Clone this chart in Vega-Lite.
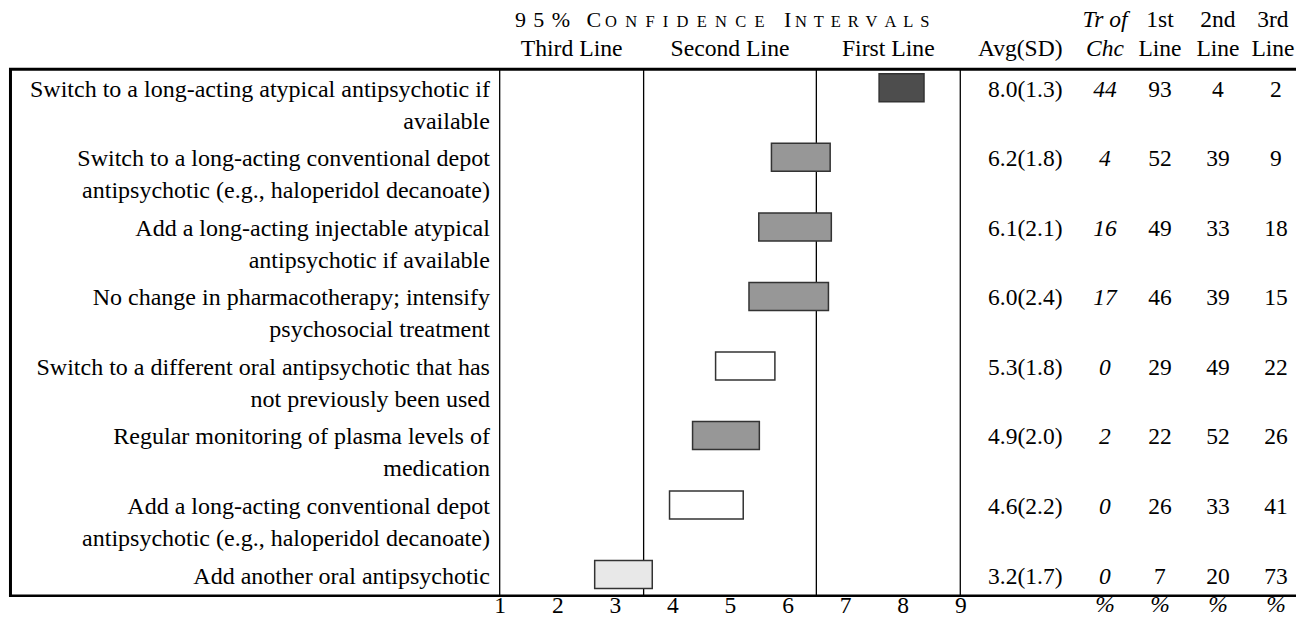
{
  "$schema": "https://vega.github.io/schema/vega-lite/v6.json",
  "width": 1296,
  "height": 596,
  "autosize": {"type": "none"},
  "padding": {"left": 0, "top": 0, "right": 0, "bottom": 22},
  "background": "white",
  "config": {
    "view": {"stroke": null},
    "text": {"font": "Liberation Serif", "color": "black"},
    "scale": {"continuousPadding": 0},
    "axis": {"grid": false, "domain": false, "ticks": false, "labelFont": "Liberation Serif", "labelFontSize": 23.5, "labelColor": "black", "labelPadding": -2.5, "labelFlush": false, "labelOverlap": false, "title": null}
  },
  "datasets": {
    "rows": [
      {"row": 1, "label": "Switch to a long-acting atypical antipsychotic if\navailable", "lo": 7.59, "hi": 8.37, "rating": "first line", "avgsd": "8.0(1.3)", "trchc": 44, "first": 93, "second": 4, "third": 2},
      {"row": 2, "label": "Switch to a long-acting conventional depot\nantipsychotic (e.g., haloperidol decanoate)", "lo": 5.72, "hi": 6.74, "rating": "high second line", "avgsd": "6.2(1.8)", "trchc": 4, "first": 52, "second": 39, "third": 9},
      {"row": 3, "label": "Add a long-acting injectable atypical\nantipsychotic if available", "lo": 5.5, "hi": 6.76, "rating": "high second line", "avgsd": "6.1(2.1)", "trchc": 16, "first": 49, "second": 33, "third": 18},
      {"row": 4, "label": "No change in pharmacotherapy; intensify\npsychosocial treatment", "lo": 5.33, "hi": 6.71, "rating": "high second line", "avgsd": "6.0(2.4)", "trchc": 17, "first": 46, "second": 39, "third": 15},
      {"row": 5, "label": "Switch to a different oral antipsychotic that has\nnot previously been used", "lo": 4.75, "hi": 5.78, "rating": "second line", "avgsd": "5.3(1.8)", "trchc": 0, "first": 29, "second": 49, "third": 22},
      {"row": 6, "label": "Regular monitoring of plasma levels of\nmedication", "lo": 4.35, "hi": 5.51, "rating": "high second line", "avgsd": "4.9(2.0)", "trchc": 2, "first": 22, "second": 52, "third": 26},
      {"row": 7, "label": "Add a long-acting conventional depot\nantipsychotic (e.g., haloperidol decanoate)", "lo": 3.95, "hi": 5.23, "rating": "second line", "avgsd": "4.6(2.2)", "trchc": 0, "first": 26, "second": 33, "third": 41},
      {"row": 8, "label": "Add another oral antipsychotic", "lo": 2.65, "hi": 3.65, "rating": "third line", "avgsd": "3.2(1.7)", "trchc": 0, "first": 7, "second": 20, "third": 73}
    ],
    "cuts": [{"v": 1}, {"v": 3.5}, {"v": 6.5}, {"v": 9}],
    "one": [{}]
  },
  "layer": [
    {
      "data": {"name": "cuts"},
      "mark": {"type": "rule", "color": "black", "strokeWidth": 1.3},
      "encoding": {
        "x": {"field": "v", "type": "quantitative",
              "scale": {"domain": [-7.679, 14.831], "nice": false, "zero": false, "padding": 0},
              "axis": {"values": [1, 2, 3, 4, 5, 6, 7, 8, 9], "format": "d", "title": null, "domain": false, "ticks": false, "grid": false,
                       "labelFont": "Liberation Serif", "labelFontSize": 23.5, "labelColor": "black", "labelPadding": -2.5,
                       "labelFlush": false, "labelOverlap": false}},
        "y": {"datum": 0.7325, "type": "quantitative",
              "scale": {"domain": [-0.2626, 8.3081], "nice": false, "zero": false, "reverse": true, "padding": 0}, "axis": null},
        "y2": {"datum": 8.3081}
      }
    },
    {
      "data": {"name": "one"},
      "mark": {"type": "rule", "color": "black", "strokeWidth": 3},
      "encoding": {
        "x": {"datum": -7.497, "type": "quantitative"},
        "y": {"datum": 0.7325, "type": "quantitative", "axis": null},
        "y2": {"datum": 8.3081}
      }
    },
    {
      "data": {"name": "one"},
      "mark": {"type": "rule", "color": "black", "strokeWidth": 3},
      "encoding": {
        "x": {"datum": -7.523, "type": "quantitative"},
        "x2": {"datum": 15},
        "y": {"datum": 0.7325, "type": "quantitative", "axis": null}
      }
    },
    {
      "data": {"name": "one"},
      "mark": {"type": "rule", "color": "black", "strokeWidth": 2.6},
      "encoding": {
        "x": {"datum": -7.523, "type": "quantitative"},
        "x2": {"datum": 15},
        "y": {"datum": 8.305, "type": "quantitative", "axis": null}
      }
    },
    {
      "data": {"name": "rows"},
      "mark": {"type": "bar", "orient": "horizontal", "size": 28, "stroke": "#333333", "strokeWidth": 1.5},
      "encoding": {
        "x": {"field": "lo", "type": "quantitative"},
        "x2": {"field": "hi"},
        "y": {"field": "row", "type": "quantitative", "axis": null},
        "fill": {"field": "rating", "type": "nominal", "legend": null,
                 "scale": {"domain": ["first line", "high second line", "second line", "third line"],
                           "range": ["#4d4d4d", "#979797", "#ffffff", "#e8e8e8"]}}
      }
    },
    {
      "data": {"name": "rows"},
      "mark": {"type": "text", "align": "right", "baseline": "alphabetic", "dy": 9, "fontSize": 24, "lineBreak": "\n", "lineHeight": 32},
      "encoding": {
        "x": {"datum": 0.83, "type": "quantitative"},
        "y": {"field": "row", "type": "quantitative", "axis": null},
        "text": {"field": "label"}
      }
    },
    {
      "data": {"name": "rows"},
      "mark": {"type": "text", "align": "right", "baseline": "alphabetic", "dy": 9, "fontSize": 23.5},
      "encoding": {
        "x": {"datum": 10.775, "type": "quantitative"},
        "y": {"field": "row", "type": "quantitative", "axis": null},
        "text": {"field": "avgsd"}
      }
    },
    {
      "data": {"name": "rows"},
      "mark": {"type": "text", "align": "center", "baseline": "alphabetic", "dy": 9, "fontSize": 23.5, "fontStyle": "italic"},
      "encoding": {
        "x": {"datum": 11.513, "type": "quantitative"},
        "y": {"field": "row", "type": "quantitative", "axis": null},
        "text": {"field": "trchc"}
      }
    },
    {
      "data": {"name": "rows"},
      "mark": {"type": "text", "align": "center", "baseline": "alphabetic", "dy": 9, "fontSize": 23.5},
      "encoding": {
        "x": {"datum": 12.468, "type": "quantitative"},
        "y": {"field": "row", "type": "quantitative", "axis": null},
        "text": {"field": "first"}
      }
    },
    {
      "data": {"name": "rows"},
      "mark": {"type": "text", "align": "center", "baseline": "alphabetic", "dy": 9, "fontSize": 23.5},
      "encoding": {
        "x": {"datum": 13.476, "type": "quantitative"},
        "y": {"field": "row", "type": "quantitative", "axis": null},
        "text": {"field": "second"}
      }
    },
    {
      "data": {"name": "rows"},
      "mark": {"type": "text", "align": "center", "baseline": "alphabetic", "dy": 9, "fontSize": 23.5},
      "encoding": {
        "x": {"datum": 14.483, "type": "quantitative"},
        "y": {"field": "row", "type": "quantitative", "axis": null},
        "text": {"field": "third"}
      }
    },
    {
      "data": {"name": "one"},
      "mark": {"type": "text", "align": "left", "baseline": "alphabetic", "fontSize": 22, "text": "9\u20045\u2004%\u2002\u2005C"},
      "encoding": {
        "x": {"datum": 1.266, "type": "quantitative"},
        "y": {"datum": 0.12, "type": "quantitative", "axis": null}
      }
    },
    {
      "data": {"name": "one"},
      "mark": {"type": "text", "align": "left", "baseline": "alphabetic", "fontSize": 16.5, "text": "O\u2002N\u2002F\u2002I\u2002D\u2002E\u2002N\u2002C\u2002E"},
      "encoding": {
        "x": {"datum": 2.83, "type": "quantitative"},
        "y": {"datum": 0.12, "type": "quantitative", "axis": null}
      }
    },
    {
      "data": {"name": "one"},
      "mark": {"type": "text", "align": "left", "baseline": "alphabetic", "fontSize": 22, "text": "I"},
      "encoding": {
        "x": {"datum": 5.939, "type": "quantitative"},
        "y": {"datum": 0.12, "type": "quantitative", "axis": null}
      }
    },
    {
      "data": {"name": "one"},
      "mark": {"type": "text", "align": "left", "baseline": "alphabetic", "fontSize": 16.5, "text": "N\u2005\u2006T\u2005\u2006E\u2005\u2006R\u2005\u2006V\u2005\u2006A\u2005\u2006L\u2005\u2006S"},
      "encoding": {
        "x": {"datum": 6.13, "type": "quantitative"},
        "y": {"datum": 0.12, "type": "quantitative", "axis": null}
      }
    },
    {
      "data": {"name": "one"},
      "mark": {"type": "text", "align": "center", "baseline": "alphabetic", "fontSize": 23.7, "text": "Third Line"},
      "encoding": {
        "x": {"datum": 2.25, "type": "quantitative"},
        "y": {"datum": 0.543, "type": "quantitative", "axis": null}
      }
    },
    {
      "data": {"name": "one"},
      "mark": {"type": "text", "align": "center", "baseline": "alphabetic", "fontSize": 23.7, "text": "Second Line"},
      "encoding": {
        "x": {"datum": 5.0, "type": "quantitative"},
        "y": {"datum": 0.543, "type": "quantitative", "axis": null}
      }
    },
    {
      "data": {"name": "one"},
      "mark": {"type": "text", "align": "center", "baseline": "alphabetic", "fontSize": 23.7, "text": "First Line"},
      "encoding": {
        "x": {"datum": 7.75, "type": "quantitative"},
        "y": {"datum": 0.543, "type": "quantitative", "axis": null}
      }
    },
    {
      "data": {"name": "one"},
      "mark": {"type": "text", "align": "right", "baseline": "alphabetic", "fontSize": 23.5, "text": "Avg(SD)"},
      "encoding": {
        "x": {"datum": 10.775, "type": "quantitative"},
        "y": {"datum": 0.543, "type": "quantitative", "axis": null}
      }
    },
    {
      "data": {"name": "one"},
      "mark": {"type": "text", "align": "center", "baseline": "alphabetic", "fontSize": 23.5, "fontStyle": "italic", "lineBreak": "\n", "lineHeight": 28.5, "text": "Tr of\nChc"},
      "encoding": {
        "x": {"datum": 11.513, "type": "quantitative"},
        "y": {"datum": 0.13, "type": "quantitative", "axis": null}
      }
    },
    {
      "data": {"name": "one"},
      "mark": {"type": "text", "align": "center", "baseline": "alphabetic", "fontSize": 23.5, "lineBreak": "\n", "lineHeight": 28.5, "text": "1st\nLine"},
      "encoding": {
        "x": {"datum": 12.468, "type": "quantitative"},
        "y": {"datum": 0.13, "type": "quantitative", "axis": null}
      }
    },
    {
      "data": {"name": "one"},
      "mark": {"type": "text", "align": "center", "baseline": "alphabetic", "fontSize": 23.5, "lineBreak": "\n", "lineHeight": 28.5, "text": "2nd\nLine"},
      "encoding": {
        "x": {"datum": 13.476, "type": "quantitative"},
        "y": {"datum": 0.13, "type": "quantitative", "axis": null}
      }
    },
    {
      "data": {"name": "one"},
      "mark": {"type": "text", "align": "center", "baseline": "alphabetic", "fontSize": 23.5, "lineBreak": "\n", "lineHeight": 28.5, "text": "3rd\nLine"},
      "encoding": {
        "x": {"datum": 14.43, "type": "quantitative"},
        "y": {"datum": 0.13, "type": "quantitative", "axis": null}
      }
    },
    {
      "data": {"name": "one"},
      "mark": {"type": "text", "align": "center", "baseline": "alphabetic", "fontSize": 23.5, "fontStyle": "italic", "text": "%"},
      "encoding": {
        "x": {"datum": 11.513, "type": "quantitative"},
        "y": {"datum": 8.545, "type": "quantitative", "axis": null}
      }
    },
    {
      "data": {"name": "one"},
      "mark": {"type": "text", "align": "center", "baseline": "alphabetic", "fontSize": 23.5, "fontStyle": "italic", "text": "%"},
      "encoding": {
        "x": {"datum": 12.468, "type": "quantitative"},
        "y": {"datum": 8.545, "type": "quantitative", "axis": null}
      }
    },
    {
      "data": {"name": "one"},
      "mark": {"type": "text", "align": "center", "baseline": "alphabetic", "fontSize": 23.5, "fontStyle": "italic", "text": "%"},
      "encoding": {
        "x": {"datum": 13.476, "type": "quantitative"},
        "y": {"datum": 8.545, "type": "quantitative", "axis": null}
      }
    },
    {
      "data": {"name": "one"},
      "mark": {"type": "text", "align": "center", "baseline": "alphabetic", "fontSize": 23.5, "fontStyle": "italic", "text": "%"},
      "encoding": {
        "x": {"datum": 14.483, "type": "quantitative"},
        "y": {"datum": 8.545, "type": "quantitative", "axis": null}
      }
    }
  ]
}
